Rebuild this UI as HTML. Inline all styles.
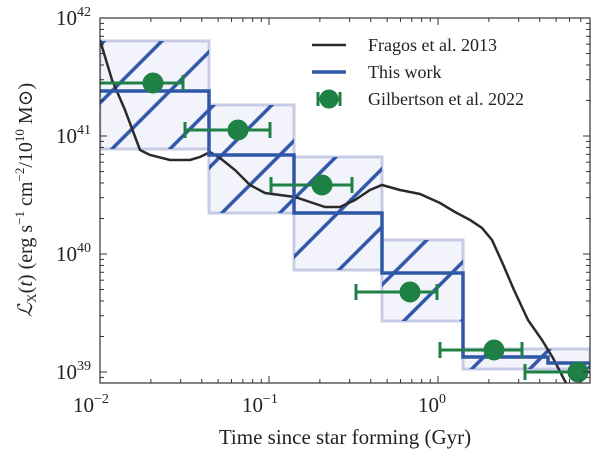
<!DOCTYPE html>
<html><head><meta charset="utf-8"><style>
html,body{margin:0;padding:0;background:#fff;}
svg text{font-family:"Liberation Serif","DejaVu Serif",serif;fill:#222;}
</style></head><body>
<svg id="s" width="600" height="459" viewBox="0 0 600 459" xmlns="http://www.w3.org/2000/svg">
<defs>
<pattern id="h" patternUnits="userSpaceOnUse" width="41" height="41" patternTransform="rotate(45)">
<line x1="20.5" y1="-5" x2="20.5" y2="46" stroke="#2f57a8" stroke-width="3.5"/>
</pattern>
<clipPath id="c"><rect x="100" y="18" width="490" height="365"/></clipPath>
</defs>
<g clip-path="url(#c)">
<g fill="#f3f3fb" stroke="#c8cbe6" stroke-width="3">
<rect x="100" y="41" width="109" height="108"/>
<rect x="209" y="105" width="85" height="108"/>
<rect x="294" y="157" width="88" height="113"/>
<rect x="382" y="240" width="81" height="81"/>
<rect x="463" y="349" width="127" height="20"/>
</g>
<g fill="url(#h)">
<rect x="100" y="41" width="109" height="108"/>
<rect x="209" y="105" width="85" height="108"/>
<rect x="294" y="157" width="88" height="113"/>
<rect x="382" y="240" width="81" height="81"/>
<rect x="463" y="349" width="127" height="20"/>
</g>
<polyline fill="none" stroke="#2a2a2a" stroke-width="2.5" points="100,40 112,80 125,110 140,150 150,155 170,160 190,160 200,157 210,152 220,158 235,170 250,185 265,193 280,195 295,197 310,202 325,207 340,207 355,200 370,190 382,185 400,190 420,194 440,203 455,212 470,220 482,228 492,240 502,262 514,290 528,320 542,340 553,358 567,385"/>
<polyline fill="none" stroke="#2f57a8" stroke-width="3.5" points="100,91 209,91 209,155 294,155 294,213 382,213 382,273 463,273 463,357 548,357 548,363 590,363"/>
<g stroke="#1f8045" stroke-width="3" fill="#1f8045">
<line x1="100" y1="83" x2="183" y2="83"/><line x1="183" y1="75" x2="183" y2="91"/><circle cx="153" cy="83" r="9"/>
<line x1="185" y1="130" x2="270" y2="130"/><line x1="185" y1="122" x2="185" y2="138"/><line x1="270" y1="122" x2="270" y2="138"/><circle cx="238" cy="130" r="9"/>
<line x1="271" y1="185" x2="352" y2="185"/><line x1="271" y1="177" x2="271" y2="193"/><line x1="352" y1="177" x2="352" y2="193"/><circle cx="322" cy="185" r="9"/>
<line x1="356" y1="292" x2="437" y2="292"/><line x1="356" y1="284" x2="356" y2="300"/><line x1="437" y1="284" x2="437" y2="300"/><circle cx="410" cy="292" r="9"/>
<line x1="440" y1="350" x2="522" y2="350"/><line x1="440" y1="342" x2="440" y2="358"/><line x1="522" y1="342" x2="522" y2="358"/><circle cx="494" cy="350" r="9"/>
<line x1="525" y1="372" x2="590" y2="372"/><line x1="525" y1="364" x2="525" y2="380"/><circle cx="578" cy="372" r="9"/>
</g>
</g>
<g id="ticks" stroke="#333" stroke-width="1"></g>
<rect x="100" y="18" width="490" height="365" fill="none" stroke="#333" stroke-width="1.2"/>
<line x1="312" y1="45" x2="346" y2="45" stroke="#2a2a2a" stroke-width="2.5"/>
<text x="368" y="51" font-size="18">Fragos et al. 2013</text>
<line x1="312" y1="72" x2="346" y2="72" stroke="#2f57a8" stroke-width="3.5"/>
<text x="368" y="78" font-size="18">This work</text>
<g stroke="#1f8045" stroke-width="3" fill="#1f8045"><line x1="318" y1="99" x2="340" y2="99"/><line x1="318" y1="92" x2="318" y2="106"/><line x1="340" y1="92" x2="340" y2="106"/><circle cx="329" cy="99" r="8"/></g>
<text x="368" y="105" font-size="18">Gilbertson et al. 2022</text>
<g font-size="21">
<text x="73" y="412">10<tspan dy="-9" font-size="14">−2</tspan></text>
<text x="242" y="412">10<tspan dy="-9" font-size="14">−1</tspan></text>
<text x="418" y="412">10<tspan dy="-9" font-size="14">0</tspan></text>
<text x="56" y="25">10<tspan dy="-9" font-size="14">42</tspan></text>
<text x="56" y="143">10<tspan dy="-9" font-size="14">41</tspan></text>
<text x="56" y="261">10<tspan dy="-9" font-size="14">40</tspan></text>
<text x="56" y="379">10<tspan dy="-9" font-size="14">39</tspan></text>
</g>
<text x="345" y="444" font-size="21" text-anchor="middle">Time since star forming (Gyr)</text>
<text transform="translate(32,200) rotate(-90)" font-size="20" text-anchor="middle"><tspan font-style="italic">ℒ</tspan><tspan font-size="13" dy="4">X</tspan><tspan dy="-4">(<tspan font-style="italic">t</tspan>)  (erg s</tspan><tspan font-size="13" dy="-8">−1</tspan><tspan dy="8"> cm</tspan><tspan font-size="13" dy="-8">−2</tspan><tspan dy="8">/10</tspan><tspan font-size="13" dy="-8">10</tspan><tspan dy="8"> M</tspan><tspan>⊙)</tspan></text>
</svg>
<script>
var g=document.getElementById('ticks'),h='';
function L(x1,y1,x2,y2){h+='<line x1="'+x1+'" y1="'+y1+'" x2="'+x2+'" y2="'+y2+'"/>';}
for(var d=-2;d<=0;d++)for(var m=1;m<10;m++){var x=100+(d+2+Math.log10(m))*169;if(x>590)continue;var l=m==1?7:4;L(x,383,x,383-l);L(x,18,x,18+l);}
for(var d=38;d<=41;d++)for(var m=1;m<10;m++){var y=18+(42-d-Math.log10(m))*118;if(y>383||y<18)continue;var l=m==1?7:4;L(100,y,100+l,y);L(590,y,590-l,y);}
g.innerHTML=h;
</script>
</body></html>
